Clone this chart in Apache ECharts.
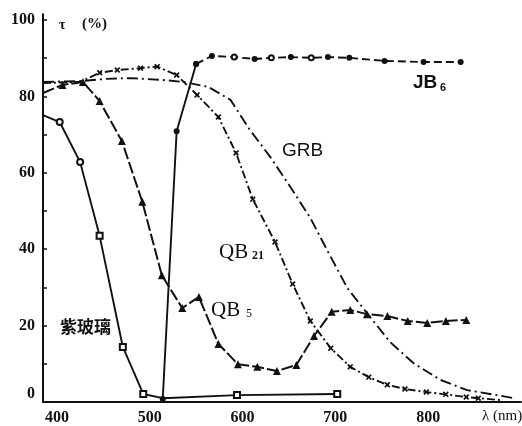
<!DOCTYPE html>
<html>
<head>
<meta charset="utf-8">
<script src="https://cdn.jsdelivr.net/npm/echarts@6/dist/echarts.min.js"></script>
<style>
  html, body { margin: 0; padding: 0; background: #fff; }
  #chart { width: 522px; height: 426px; }
</style>
</head>
<body>
<div id="chart"></div>
<script>
// Spectral transmittance τ (%) versus wavelength λ (nm) of several filter glasses.

// 紫玻璃 (violet glass)
const violetWave = [385, 403, 425, 446, 471, 493, 514, 594, 702];
const violetTau  = [75.1, 73.3, 62.8, 43.5, 14.4, 2.1, 1.0, 1.8, 2.1];

// QB5
const qb5Wave = [385, 406, 428, 446, 470, 492, 513, 535, 553, 574, 595, 616, 637, 658, 677, 696, 716, 734, 756, 778, 799, 819, 841];
const qb5Tau  = [80.9, 83.0, 83.8, 78.8, 68.3, 52.4, 33.2, 24.6, 27.5, 15.2, 9.9, 9.2, 8.1, 9.7, 17.3, 23.6, 24.1, 23.0, 22.5, 21.2, 20.7, 21.2, 21.5];

// QB21
const qb21Wave = [385, 425, 446, 465, 490, 508, 529, 551, 574, 593, 611, 635, 654, 673, 695, 716, 736, 756, 775, 798, 819, 841, 854, 878];
const qb21Tau  = [83.5, 83.8, 86.2, 86.9, 87.4, 87.8, 85.6, 80.4, 74.6, 65.2, 53.1, 41.9, 30.9, 21.2, 14.1, 9.2, 6.5, 4.5, 3.4, 2.6, 2.0, 1.3, 1.0, 0.5];

// GRB
const grbWave = [385, 425, 453, 479, 514, 536, 563, 587, 608, 630, 651, 673, 691, 713, 734, 759, 784, 813, 842, 874, 892];
const grbTau  = [83.8, 84.0, 84.6, 84.8, 84.3, 83.8, 82.5, 79.1, 71.2, 64.1, 56.5, 48.2, 39.8, 29.8, 23.3, 15.7, 10.2, 5.8, 3.1, 1.8, 1.0];

// JB6
const jb6Wave = [514, 529, 550, 567, 591, 613, 631, 652, 674, 692, 715, 753, 795, 835];
const jb6Tau  = [0.8, 70.9, 88.5, 90.6, 90.3, 89.8, 90.1, 90.3, 90.1, 90.3, 90.1, 89.3, 89.0, 89.0];

// Axis ticks and labels
const xLabelValues = [400, 500, 600, 700, 800];
const yLabelValues = [0, 20, 40, 60, 80, 100];
const yTickValues  = [10, 20, 30, 40, 50, 60, 70, 80, 90, 100];

const INK = '#111';
const serif = '"Liberation Serif", "DejaVu Serif", serif';
const sans = '"Liberation Sans", "DejaVu Sans", sans-serif';
const crossPath = 'path://M0 2L2 0L5 3L8 0L10 2L7 5L10 8L8 10L5 7L2 10L0 8L3 5Z';

function pairs(wave, tau, from, to) {
  const out = [];
  for (let i = from; i < to; i++) out.push([wave[i], tau[i]]);
  return out;
}

// Violet glass: open circles on the first points, open squares afterwards; no marker at the axis
const violetData = pairs(violetWave, violetTau, 0, violetWave.length).map((p, i) => {
  if (i === 0) return { value: p, symbol: 'none' };
  if (i === 1 || i === 2) return { value: p, symbol: 'emptyCircle', symbolSize: 6 };
  if (i === 6) return { value: p, symbol: 'none' };
  return { value: p };
});

const qb5Data = pairs(qb5Wave, qb5Tau, 0, qb5Wave.length).map((p, i) =>
  i === 0 ? { value: p, symbol: 'none' } : { value: p });

const qb21Data = pairs(qb21Wave, qb21Tau, 0, qb21Wave.length).map((p, i) =>
  (i === 0 || i === 1 || i === qb21Wave.length - 1) ? { value: p, symbol: 'none' } : { value: p });

// JB6 rises steeply (solid), then the plateau is dashed with alternating marker styles
const jb6OpenIdx = [4, 6, 8];
const jb6Rise = pairs(jb6Wave, jb6Tau, 0, 3);
const jb6Flat = pairs(jb6Wave, jb6Tau, 2, jb6Wave.length).map((p, k) =>
  jb6OpenIdx.indexOf(k + 2) >= 0 ? { value: p, symbol: 'emptyCircle', symbolSize: 5 } : { value: p });

const chart = echarts.init(document.getElementById('chart'), null, { renderer: 'canvas' });

function txt(text, x, y, font, extra) {
  return Object.assign({
    type: 'text', x: x, y: y, silent: true,
    style: Object.assign({ text: text, font: font, fill: INK }, extra || {})
  });
}

chart.setOption({
  animation: false,
  backgroundColor: '#fff',
  grid: { left: 43, right: 1, top: 14.3, bottom: 24, containLabel: false },
  xAxis: {
    type: 'value', min: 385, max: 900,
    axisLine: { show: true, onZero: false, lineStyle: { color: INK, width: 2 } },
    axisTick: { show: false },
    splitLine: { show: false },
    axisLabel: {
      customValues: xLabelValues, margin: 8,
      color: INK, fontFamily: serif, fontSize: 16, fontWeight: 'bold'
    }
  },
  yAxis: {
    type: 'value', min: 0, max: 101.5,
    axisLine: { show: true, lineStyle: { color: INK, width: 2 } },
    axisTick: { show: true, inside: true, length: 4, customValues: yTickValues, lineStyle: { color: INK, width: 1.5 } },
    splitLine: { show: false },
    axisLabel: {
      customValues: yLabelValues, margin: 8,
      color: INK, fontFamily: serif, fontSize: 16, fontWeight: 'bold',
      formatter: v => (v === 0 ? '{z|0}' : String(v)),
      rich: { z: { fontFamily: serif, fontSize: 16, fontWeight: 'bold', color: INK, padding: [0, 0, 16, 0] } }
    }
  },
  series: [
    {
      name: '紫玻璃', type: 'line', data: violetData,
      symbol: 'emptyRect', symbolSize: 6,
      lineStyle: { color: INK, width: 1.9 },
      itemStyle: { color: INK, borderWidth: 1.5 }
    },
    {
      name: 'QB5', type: 'line', data: qb5Data,
      symbol: 'triangle', symbolSize: 8,
      lineStyle: { color: INK, width: 2, type: [12, 3] },
      itemStyle: { color: INK }
    },
    {
      name: 'QB21', type: 'line', data: qb21Data,
      symbol: crossPath, symbolSize: 6,
      lineStyle: { color: INK, width: 1.9, type: [8, 3, 2, 3] },
      itemStyle: { color: INK }
    },
    {
      name: 'GRB', type: 'line', data: pairs(grbWave, grbTau, 0, grbWave.length),
      showSymbol: false, symbol: 'none',
      lineStyle: { color: INK, width: 1.9, type: [11, 4, 2, 4] }
    },
    {
      name: 'JB6', type: 'line', data: jb6Rise,
      symbol: 'circle', symbolSize: 6,
      lineStyle: { color: INK, width: 1.9 },
      itemStyle: { color: INK }
    },
    {
      name: 'JB6', type: 'line', data: jb6Flat,
      symbol: 'circle', symbolSize: 6,
      lineStyle: { color: INK, width: 1.9, type: [8, 4] },
      itemStyle: { color: INK, borderWidth: 1.5 }
    }
  ],
  graphic: [
    txt('τ', 59, 18, 'bold 14px ' + serif),
    txt('(%)', 82, 17, 'bold 15px ' + serif),
    txt('λ (nm)', 482, 409, '15px ' + serif),
    txt('JB', 413, 73, 'bold 19px ' + sans),
    txt('6', 440, 82, 'bold 11px ' + sans),
    txt('GRB', 282, 141, '19px ' + sans),
    txt('QB', 219, 242, '21px ' + serif),
    txt('21', 252, 250, 'bold 12px ' + serif),
    txt('QB', 211, 300, '21px ' + serif),
    txt('5', 246, 308, '12px ' + serif),
    txt('紫玻璃', 60, 318, 'bold 17px "Noto Sans CJK SC", sans-serif')
  ]
});
</script>
</body>
</html>
